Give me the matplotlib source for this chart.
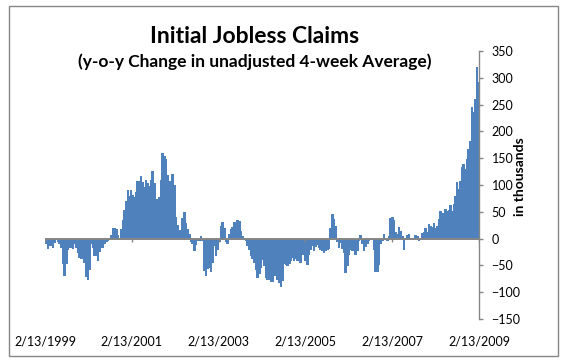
import numpy as np
import pandas as pd
import matplotlib
matplotlib.use("Agg")
import matplotlib.pyplot as plt
from matplotlib.patches import Rectangle

plt.rcParams['font.family'] = ['Lato', 'DejaVu Sans']

# y-o-y change in the unadjusted 4-week average of initial claims (thousands),
# read off the chart every second week starting 2/13/1999
start_date = "1999-02-13"
step = "14D"
yoy = [
    -8, -17, -12, -12, -15, -6, 1, -5, -9, -15,
    -45, -68, -45, -19, -15, -15, -17, -9, -16, -25,
    -34, -37, -35, -44, -70, -75, -56, -8, -15, -30,
    -30, -40, -24, -15, -15, -9, -4, -3, 2, 6,
    20, 20, 17, 7, 1, 18, 35, 53, 70, 90,
    80, 90, 81, 78, 87, 107, 107, 116, 106, 96,
    109, 104, 98, 110, 126, 103, 73, 73, 78, 110,
    160, 155, 149, 118, 107, 75, 120, 100, 40, 25,
    16, 12, 38, 49, 30, 18, 8, -5, -8, -22,
    -11, -2, -2, 5, -3, -58, -68, -54, -53, -60,
    -44, -12, -30, -20, -5, 23, 31, 20, -5, -8,
    8, 17, 22, 31, 29, 34, 32, 15, 4, 1,
    -3, -12, -20, -31, -37, -44, -57, -72, -65, -53,
    -38, -50, -72, -75, -76, -79, -80, -68, -44, -75,
    -81, -88, -78, -45, -48, -50, -45, -40, -34, -40,
    -37, -39, -34, -44, -28, -12, -40, -47, -28, -19,
    -12, -21, -14, -11, -16, -19, -22, -25, -22, -19,
    -17, 20, 45, 36, 23, -4, -15, -6, -17, -25,
    -62, -50, -28, -19, -22, -19, -28, -22, -3, 6,
    -9, -21, -14, -8, -3, -1, -1, -20, -60, -60,
    -47, -9, -2, 9, 2, -3, 5, 38, 40, 34,
    12, 9, 22, 15, 5, -19, 2, 6, 9, 2,
    2, 2, 6, 5, -2, 2, 10, 13, 20, 12,
    27, 24, 21, 29, 20, 24, 37, 52, 47, 43,
    55, 51, 53, 62, 52, 65, 80, 105, 93, 108,
    133, 139, 130, 149, 167, 183, 245, 236, 260, 320,
    292,
]
label_dates = ["1999-02-13", "2001-02-13", "2003-02-13",
               "2005-02-13", "2007-02-13", "2009-02-13"]
label_text = ["2/13/1999", "2/13/2001", "2/13/2003",
              "2/13/2005", "2/13/2007", "2/13/2009"]

dates = pd.date_range(start_date, periods=len(yoy), freq=step)
ticks = pd.to_datetime(label_dates)

fig = plt.figure(figsize=(5.64, 3.64), dpi=100)
ax = fig.add_axes([45/564, 45/364, 434/564, 268/364])

ax.bar(dates, yoy, width=14, align='edge', color='#4F81BD',
       edgecolor='#4F81BD', linewidth=0.5, antialiased=False, zorder=2)
ax.axhline(0, color='#868686', lw=1.4, zorder=3)
ax.vlines(ticks, -7, 0, color='#868686', lw=1, zorder=3)

ax.set_xlim(ticks[0], ticks[-1])
ax.set_ylim(-150, 350)
ax.set_yticks(np.arange(-150, 351, 50))
ax.yaxis.tick_right()
ax.tick_params(axis='y', direction='out', length=3, width=1, color='#868686',
               pad=6, labelsize=9)
ax.set_xticks(ticks)
ax.set_xticklabels(label_text)
ax.tick_params(axis='x', length=0, pad=12, labelsize=9)

for s in ['left', 'top', 'bottom']:
    ax.spines[s].set_visible(False)
ax.spines['right'].set_color('#868686')
ax.spines['right'].set_linewidth(1)

fig.text(255/564, 1 - 43/364, "Initial Jobless Claims", ha='center',
         va='baseline', fontsize=16.5, fontweight='bold')
fig.text(255/564, 1 - 66.5/364, "(y-o-y Change in unadjusted 4-week Average)",
         ha='center', va='baseline', fontsize=12.5, fontweight='bold')
fig.text(520/564, 1 - 176.5/364, "in thousands", rotation=90, ha='center',
         va='center', fontsize=10, fontweight='bold')

fig.patches.append(Rectangle((9/564, 1 - 356/364), 549/564, 350/364,
                             transform=fig.transFigure, fill=False,
                             edgecolor='#868686', lw=1))

fig.savefig("out.png", dpi=100)
